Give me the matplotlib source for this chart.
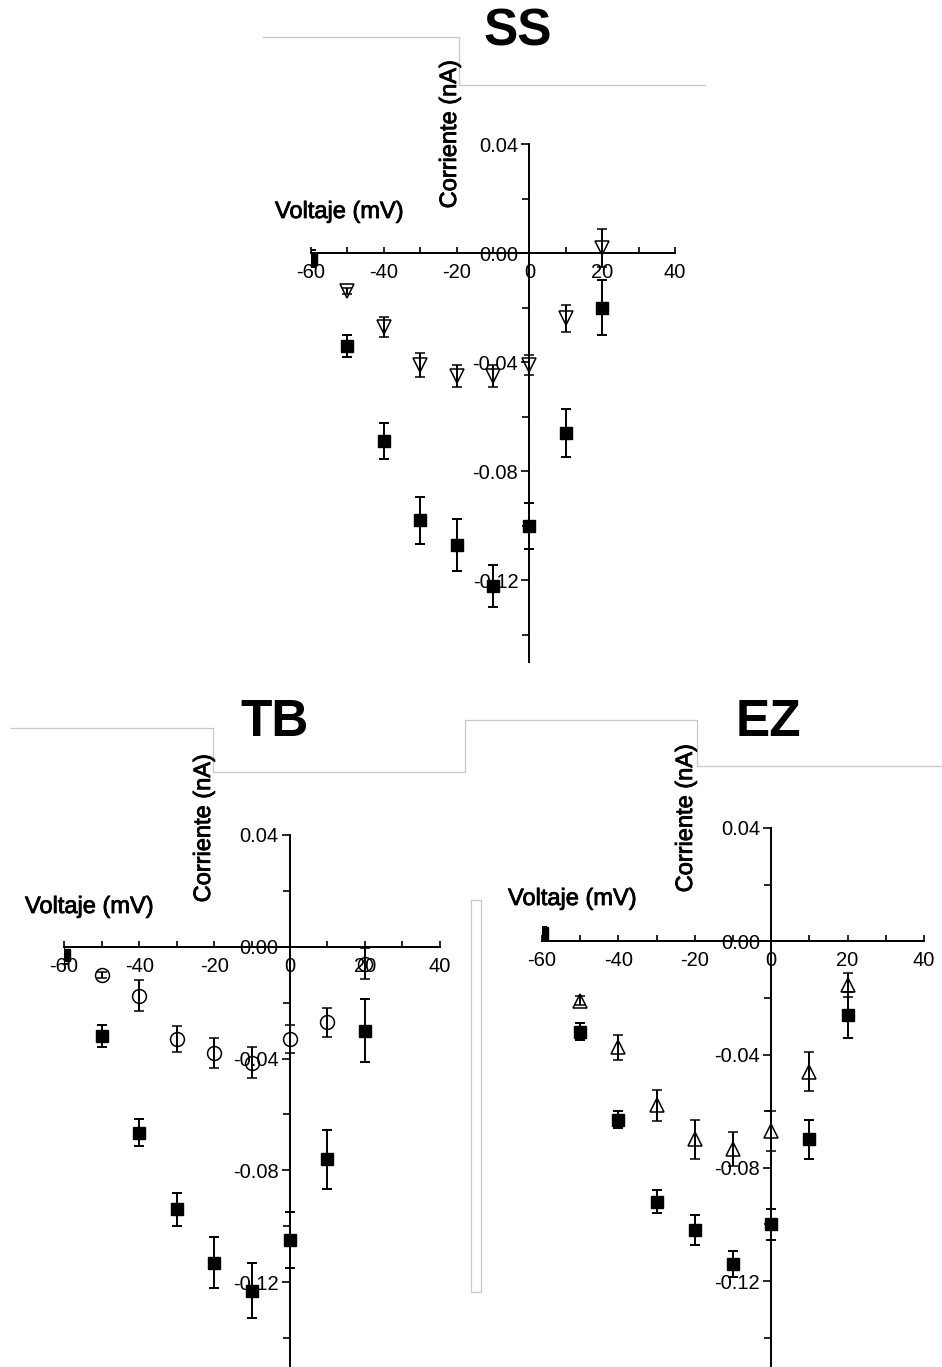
import numpy as np
import matplotlib
matplotlib.use("Agg")
import matplotlib.pyplot as plt
import matplotlib.patheffects as pe
from matplotlib.lines import Line2D
from matplotlib.patches import Rectangle

plt.rcParams['font.family'] = ['Liberation Sans', 'DejaVu Sans']

# ================= DATA ===================
voltaje = [-60, -50, -40, -30, -20, -10, 0, 10, 20]
voltaje_trat = [-50, -40, -30, -20, -10, 0, 10, 20]

ss_ctrl = [-0.002, -0.034, -0.069, -0.098, -0.107, -0.122, -0.100, -0.066, -0.020]
ss_ctrl_err = [0.003, 0.004, 0.0065, 0.0086, 0.0095, 0.0077, 0.0085, 0.0088, 0.0101]
ss_trat = [-0.014, -0.027, -0.041, -0.045, -0.045, -0.041, -0.024, 0.002]
ss_trat_err = [0.001, 0.0037, 0.0044, 0.0041, 0.004, 0.0036, 0.005, 0.007]

tb_ctrl = [-0.003, -0.032, -0.0665, -0.094, -0.113, -0.123, -0.105, -0.076, -0.030]
tb_ctrl_err = [0.003, 0.004, 0.0048, 0.006, 0.009, 0.010, 0.010, 0.0106, 0.0113]
tb_trat = [-0.010, -0.0175, -0.033, -0.038, -0.0415, -0.033, -0.027, -0.006]
tb_trat_err = [0.001, 0.0056, 0.0046, 0.0055, 0.0056, 0.005, 0.0052, 0.0055]

ez_ctrl = [0.003, -0.032, -0.063, -0.092, -0.102, -0.114, -0.100, -0.070, -0.026]
ez_ctrl_err = [0.002, 0.003, 0.003, 0.004, 0.0054, 0.0045, 0.0056, 0.0068, 0.0081]
ez_trat = [-0.021, -0.0375, -0.058, -0.070, -0.0735, -0.067, -0.046, -0.0155]
ez_trat_err = [0.0015, 0.0044, 0.0053, 0.007, 0.006, 0.007, 0.0068, 0.0042]

x_ticks = [-60, -40, -20, 0, 20, 40]
y_ticks = [0.04, 0.0, -0.04, -0.08, -0.12]
y_ticklabels = ['0.04', '0.00', '-0.04', '-0.08', '-0.12']

W, H = 942, 1367
fig = plt.figure(figsize=(W / 100, H / 100), dpi=100)

# slightly heavier strokes for the axis captions
thick = [pe.withStroke(linewidth=0.6, foreground='black')]


def px(x, y):
    return x / W, 1 - y / H


def iv_panel(rect, ctrl, ctrl_err, trat, trat_err, marker, title, title_xy, volt_xy, corr_xy):
    ax = fig.add_axes(rect)
    ax.set_xlim(-60, 40)
    ax.set_ylim(-0.15, 0.04)
    for side in ['right', 'top']:
        ax.spines[side].set_visible(False)
    ax.spines['left'].set_position(('data', 0))
    ax.spines['bottom'].set_position(('data', 0))
    ax.spines['left'].set_linewidth(1.4)
    ax.spines['bottom'].set_linewidth(1.4)
    ax.patch.set_alpha(0)

    ax.set_xticks(x_ticks)
    ax.set_xticklabels([str(v) for v in x_ticks])
    ax.set_xticks([-50, -30, -10, 10, 30], minor=True)
    ax.set_yticks(y_ticks)
    ax.set_yticklabels(y_ticklabels)
    ax.set_yticks([0.02, -0.02, -0.06, -0.10, -0.14], minor=True)
    ax.tick_params(axis='x', which='both', direction='in', length=4, width=1.2,
                   labelsize=14.5, pad=7)
    ax.tick_params(axis='y', which='major', direction='out', length=6, width=1.2,
                   labelsize=14.5, pad=2)
    ax.tick_params(axis='y', which='minor', direction='out', length=5, width=1.2)

    ax.errorbar(voltaje, ctrl, yerr=ctrl_err, fmt='s', color='black', ms=8,
                capsize=3.6, elinewidth=1.4, capthick=1.4, zorder=4)
    ax.errorbar(voltaje_trat, trat, yerr=trat_err, fmt=marker, color='black',
                mfc='none', mec='black', mew=1.1, ms=10,
                capsize=3.6, elinewidth=1.4, capthick=1.4, zorder=4)

    fig.text(*px(*title_xy), title, fontsize=37, fontweight='bold',
             ha='center', va='center')
    fig.text(*px(*volt_xy), 'Voltaje (mV)', fontsize=17, ha='left', va='center',
             path_effects=thick)
    fig.text(*px(*corr_xy), 'Corriente (nA)', fontsize=17, rotation=90,
             ha='center', va='center', path_effects=thick)
    return ax


# ================= PANELS ===================
iv_panel([311 / W, 1 - 662 / H, 364 / W, 518 / H],
         ss_ctrl, ss_ctrl_err, ss_trat, ss_trat_err, 'v',
         'SS', (518, 32), (275, 212), (450, 134))
iv_panel([64 / W, 1 - 1366 / H, 376 / W, 531 / H],
         tb_ctrl, tb_ctrl_err, tb_trat, tb_trat_err, 'o',
         'TB', (275, 722), (25, 907), (204, 828))
iv_panel([542 / W, 1 - 1366 / H, 382 / W, 538 / H],
         ez_ctrl, ez_ctrl_err, ez_trat, ez_trat_err, '^',
         'EZ', (768, 722), (508, 899), (686, 818))

# ================= FRAME LINES ===================
frame_color = '#c8c8c8'
frames = [
    [(263, 37), (459, 37), (459, 85), (705, 85)],
    [(11, 728), (213, 728), (213, 772), (465, 772), (465, 720),
     (697, 720), (697, 766), (942, 766)],
]
for pts in frames:
    xs, ys = zip(*[px(x, y) for x, y in pts])
    fig.add_artist(Line2D(xs, ys, color=frame_color, lw=0.9))

fx, fy = px(471, 1292)
fig.add_artist(Rectangle((fx, fy), 10 / W, 392 / H, fill=False,
                         edgecolor=frame_color, lw=0.9))

fig.savefig('out.png', dpi=100, facecolor='white')
